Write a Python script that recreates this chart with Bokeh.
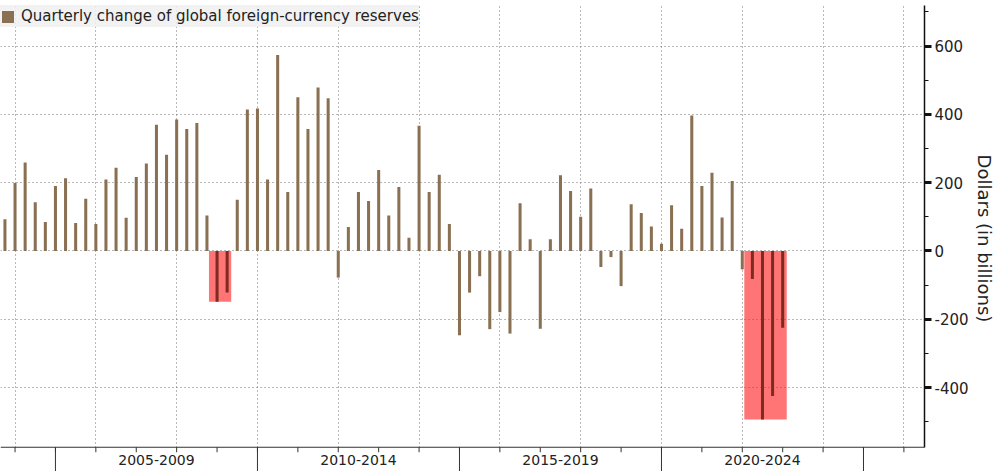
import math
import pandas as pd
from bokeh.plotting import figure
from bokeh.models import ColumnDataSource, FixedTicker, Legend, LegendItem, Span
from bokeh.core.properties import value
from bokeh.embed import file_html
from bokeh.resources import INLINE

# ---------------- data ----------------
first_quarter = "2003Q3"
last_quarter = "2022Q4"
reserve_change = [
    93, 199, 259, 143, 85, 190, 213, 82, 153, 79,
    209, 244, 97, 217, 256, 370, 282, 385, 357, 375,
    104, -149, -122, 150, 414, 417, 209, 574, 173, 450,
    357, 479, 447, -78, 70, 173, 146, 237, 104, 187,
    39, 367, 173, 223, 79, -247, -122, -74, -229, -179,
    -242, 140, 34, -228, 34, 222, 176, 100, 183, -47,
    -18, -103, 137, 111, 72, 21, 134, 65, 397, 190,
    229, 98, 205, -54, -82, -494, -425, -225,
]
highlight_periods = [("2008Q4", "2009Q1"), ("2022Q1", "2022Q4")]
period_labels = ["2005-2009", "2010-2014", "2015-2019", "2020-2024"]
period_starts = [2005, 2010, 2015, 2020]
period_bounds = [2005, 2010, 2015, 2020, 2025]
year_ticks = list(range(2004, 2027))
grid_years = list(range(2004, 2027, 2))
y_major_ticks = [-400, -200, 0, 200, 400, 600]
y_minor_ticks = [-500, -300, -100, 100, 300, 500, 700]
legend_text = "Quarterly change of global foreign-currency reserves"
y_title = "Dollars (in billions)"

# visible value range and axis extent
X_LO, X_HI = 2003.64, 2026.51
Y_AXIS, Y_TOP = -575, 719
Y_LO = -646  # room below the axis line for the period labels

# ---------------- derived ----------------
quarters = pd.period_range(first_quarter, last_quarter, freq="Q")
xpos = [q.year + q.quarter / 4 for q in quarters]

BROWN = "#8a7052"
DARK = "#7e2a1f"
FONT = "DejaVu Sans"
AX = "#333333"
GRID = "#707070"

hl = [any(pd.Period(a, "Q") <= q <= pd.Period(b, "Q") for a, b in highlight_periods)
      for q in quarters]
colors = [DARK if h else BROWN for h in hl]
src = ColumnDataSource(dict(x=xpos, top=reserve_change, color=colors))

box_left, box_right, box_bottom = [], [], []
for a, b in highlight_periods:
    pa, pb = pd.Period(a, "Q"), pd.Period(b, "Q")
    vals = [v for q, v in zip(quarters, reserve_change) if pa <= q <= pb]
    box_left.append(pa.year + pa.quarter / 4 - 0.2)
    box_right.append(pb.year + pb.quarter / 4 + 0.1)
    box_bottom.append(min(vals))
box_src = ColumnDataSource(dict(left=box_left, right=box_right,
                                bottom=box_bottom, top=[0] * len(box_left)))

# ---------------- figure ----------------
p = figure(width=1000, height=471, x_range=(X_LO, X_HI), y_range=(Y_LO, Y_TOP),
           output_backend="svg", toolbar_location=None, y_axis_location="right",
           x_axis_location=None,
           min_border_left=0, min_border_top=5, min_border_right=76, min_border_bottom=0)
p.outline_line_color = None
p.background_fill_color = "white"
p.border_fill_color = "white"

p.quad(left="left", right="right", bottom="bottom", top="top", source=box_src,
       fill_color="#ff2020", fill_alpha=0.62, line_color=None)
bars = p.vbar(x="x", top="top", bottom=0, width=0.075, source=src,
              fill_color="color", line_color=None)

# white cover for the area below the x axis line (hides grid there)
p.quad(left=[X_LO], right=[X_HI], bottom=[Y_LO], top=[Y_AXIS],
       fill_color="white", line_color=None)

# grids
p.xgrid.ticker = FixedTicker(ticks=grid_years)
p.xgrid.grid_line_color = GRID
p.xgrid.grid_line_dash = "1 3"
p.ygrid.grid_line_color = GRID
p.ygrid.grid_line_dash = "1 3"

# right axis
ya = p.yaxis[0]
ya.bounds = (Y_AXIS, Y_TOP)
ya.ticker = FixedTicker(ticks=y_major_ticks, minor_ticks=y_minor_ticks)
ya.major_label_overrides = {t: str(t) for t in y_major_ticks}
ya.axis_line_color = "#111111"
ya.axis_line_width = 1.5
ya.major_tick_in = 0
ya.major_tick_out = 7
ya.major_tick_line_width = 3
ya.major_tick_line_color = "#111111"
ya.minor_tick_in = 0
ya.minor_tick_out = 4
ya.minor_tick_line_color = "#111111"
ya.major_label_text_font = FONT
ya.major_label_text_font_size = "15px"
ya.major_label_text_color = "#222222"
ya.major_label_standoff = 3
ya.axis_label = y_title
ya.axis_label_text_font = FONT
ya.axis_label_text_font_size = "18px"
ya.axis_label_text_font_style = "normal"
ya.axis_label_text_color = "#222222"
ya.axis_label_standoff = 2

# hand-drawn bottom axis: line, yearly ticks, long period ticks, period labels
p.add_layout(Span(location=Y_AXIS, dimension="width", line_color=AX, line_width=1))
p.ray(x=year_ticks, y=[Y_AXIS] * len(year_ticks), length=5, length_units="screen",
      angle=-math.pi / 2, line_color=AX, line_width=1)
p.ray(x=period_bounds, y=[Y_AXIS] * len(period_bounds), length=24, length_units="screen",
      angle=-math.pi / 2, line_color=AX, line_width=1)
p.text(x=[s + 2.5 for s in period_starts], y=[Y_AXIS] * len(period_starts),
       text=period_labels, y_offset=13, text_align="center", text_baseline="middle",
       text_font=value(FONT), text_font_size="14px", text_color="#222222")

legend = Legend(items=[LegendItem(label=legend_text, renderers=[bars], index=0)],
                location="top_left", background_fill_color="#f0f0f0",
                background_fill_alpha=0.85, border_line_color=None,
                margin=0, padding=7, glyph_width=15, glyph_height=15,
                label_standoff=6, label_text_font=FONT, label_text_font_size="15px",
                label_text_color="#222222", label_height=22)
p.add_layout(legend)

open("out.html", "w").write(file_html(p, INLINE))
